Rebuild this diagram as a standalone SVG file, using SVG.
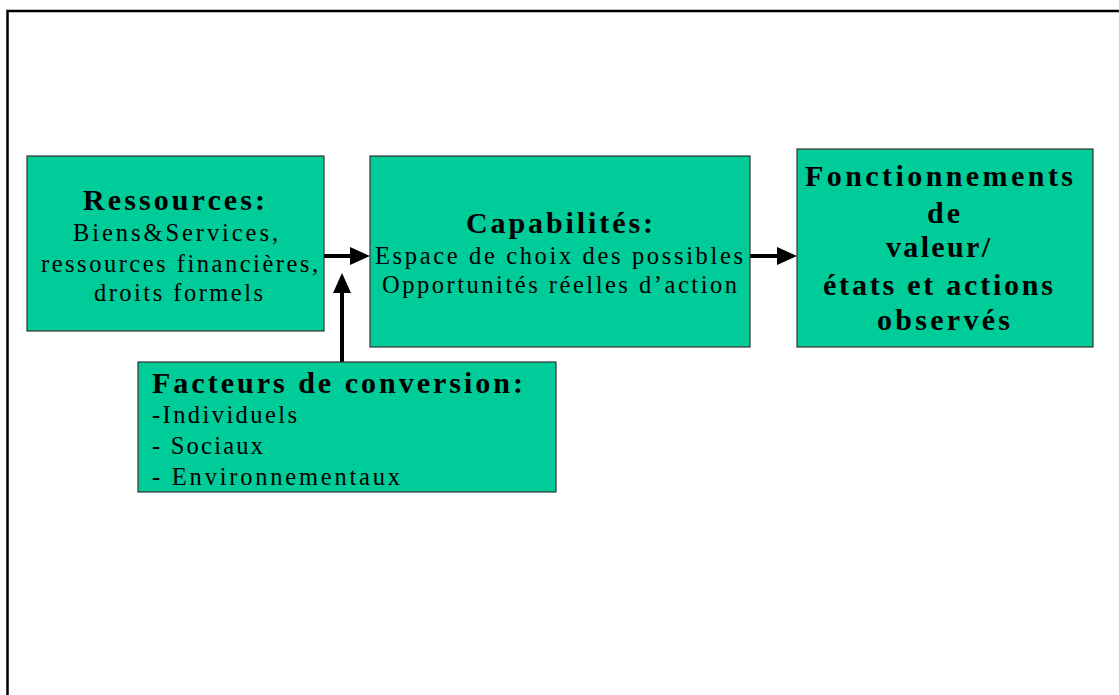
<svg xmlns="http://www.w3.org/2000/svg" width="1119" height="695" viewBox="0 0 1119 695">
<style>
.box{fill:#00CC99;stroke:#333333;stroke-width:1.2}
.t{font-family:"Liberation Serif","Times New Roman",serif;fill:#000}
.b{font-weight:bold;font-size:30px}
.r{font-size:24.5px}
.conn{stroke:#000;stroke-width:4;fill:none}
</style>
<defs>
<marker id="ah" markerUnits="userSpaceOnUse" markerWidth="20" markerHeight="18" refX="1" refY="9" orient="auto">
<path d="M0,0 L20,9 L0,18 z" fill="#000"/>
</marker>
</defs>
<rect width="1119" height="695" fill="#fff"/>
<path d="M7.5,695 V11 H1119" fill="none" stroke="#000" stroke-width="2.5"/>
<g id="connectors">
<line class="conn" x1="324" y1="256" x2="351" y2="256" marker-end="url(#ah)"/>
<line class="conn" x1="342" y1="362" x2="342" y2="292" marker-end="url(#ah)"/>
<line class="conn" x1="750" y1="256" x2="778" y2="256" marker-end="url(#ah)"/>
</g>
<g id="ressources">
<rect class="box" x="27" y="156" width="297" height="175"/>
<text class="t b" x="83" y="210" textLength="182" lengthAdjust="spacing">Ressources:</text>
<text class="t r" x="73" y="241" textLength="205" lengthAdjust="spacing">Biens&amp;Services,</text>
<text class="t r" x="41" y="271.5" textLength="277" lengthAdjust="spacing">ressources financières,</text>
<text class="t r" x="94" y="300.5" textLength="169" lengthAdjust="spacing">droits formels</text>
</g>
<g id="capabilites">
<rect class="box" x="370" y="156" width="380" height="191"/>
<text class="t b" x="466" y="232.5" textLength="187" lengthAdjust="spacing">Capabilités:</text>
<text class="t r" x="375" y="264" textLength="368" lengthAdjust="spacing">Espace de choix des possibles</text>
<text class="t r" x="382" y="293" textLength="355" lengthAdjust="spacing">Opportunités réelles d’action</text>
</g>
<g id="fonctionnements">
<rect class="box" x="797" y="149" width="296" height="198"/>
<text class="t b" x="805" y="186" textLength="268" lengthAdjust="spacing">Fonctionnements</text>
<text class="t b" x="927" y="222.5" textLength="33" lengthAdjust="spacing">de</text>
<text class="t b" x="886" y="257" textLength="104" lengthAdjust="spacing">valeur/</text>
<text class="t b" x="823" y="295" textLength="230" lengthAdjust="spacing">états et actions</text>
<text class="t b" x="877" y="330" textLength="133" lengthAdjust="spacing">observés</text>
</g>
<g id="facteurs">
<rect class="box" x="138" y="362" width="418" height="130"/>
<text class="t b" x="152" y="392.5" textLength="371" lengthAdjust="spacing">Facteurs de conversion:</text>
<text class="t r" x="152" y="423" textLength="145" lengthAdjust="spacing">-Individuels</text>
<text class="t r" x="152" y="453.5" textLength="111" lengthAdjust="spacing">- Sociaux</text>
<text class="t r" x="152" y="485" textLength="248" lengthAdjust="spacing">- Environnementaux</text>
</g>
</svg>
